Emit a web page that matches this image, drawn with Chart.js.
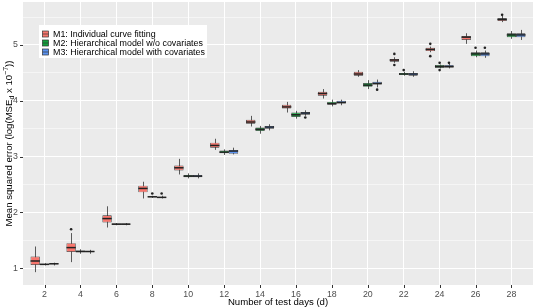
<!DOCTYPE html>
<html>
<head>
<meta charset="utf-8">
<script src="https://cdn.jsdelivr.net/npm/chart.js@4.4.1/dist/chart.umd.min.js"></script>
<style>
  html, body { margin: 0; padding: 0; background: #ffffff; overflow: hidden; }
  #wrap { width: 534px; height: 308px; position: relative; }
</style>
</head>
<body>
<div id="wrap"><canvas id="mse-boxplot-chart"></canvas></div>
<script>
// Test-day groups (x axis)
const days = [2, 4, 6, 8, 10, 12, 14, 16, 18, 20, 22, 24, 26, 28];
const yTicks = [1, 1.5, 2, 2.5, 3, 3.5, 4, 4.5, 5, 5.5];

// M1: Individual curve fitting
const m1Lo  = [0.93, 1.11, 1.73, 2.25, 2.68, 3.12, 3.54, 3.79, 4.04, 4.43, 4.68, 4.87, 5.02, 5.41];
const m1Q1  = [1.06, 1.29, 1.82, 2.36, 2.75, 3.16, 3.59, 3.86, 4.09, 4.45, 4.70, 4.89, 5.09, 5.43];
const m1Med = [1.13, 1.37, 1.89, 2.43, 2.80, 3.20, 3.62, 3.89, 4.13, 4.48, 4.73, 4.92, 5.14, 5.46];
const m1Q3  = [1.21, 1.45, 1.95, 2.48, 2.84, 3.25, 3.66, 3.93, 4.16, 4.52, 4.75, 4.95, 5.16, 5.48];
const m1Hi  = [1.39, 1.63, 2.11, 2.55, 2.96, 3.32, 3.73, 3.98, 4.21, 4.55, 4.78, 4.97, 5.21, 5.52];
const m1Out = [[4, 1.70], [22, 4.84], [22, 4.64], [24, 5.02], [24, 4.80], [28, 5.54]];

// M2: Hierarchical model w/o covariates
const m2Lo  = [1.05, 1.26, 1.77, 2.26, 2.61, 3.03, 3.41, 3.68, 3.90, 4.21, 4.45, 4.58, 4.78, 5.11];
const m2Q1  = [1.06, 1.29, 1.78, 2.27, 2.63, 3.06, 3.46, 3.71, 3.93, 4.25, 4.46, 4.59, 4.80, 5.14];
const m2Med = [1.07, 1.30, 1.79, 2.28, 2.65, 3.08, 3.49, 3.75, 3.95, 4.28, 4.48, 4.61, 4.84, 5.18];
const m2Q3  = [1.08, 1.32, 1.80, 2.29, 2.67, 3.11, 3.52, 3.79, 3.98, 4.32, 4.50, 4.64, 4.87, 5.21];
const m2Hi  = [1.09, 1.34, 1.81, 2.30, 2.70, 3.13, 3.55, 3.82, 4.02, 4.37, 4.52, 4.65, 4.90, 5.25];
const m2Out = [[8, 2.34], [22, 4.55], [24, 4.68], [24, 4.55], [26, 4.95]];

// M3: Hierarchical model with covariates
const m3Lo  = [1.05, 1.26, 1.77, 2.25, 2.61, 3.04, 3.47, 3.73, 3.92, 4.24, 4.43, 4.58, 4.77, 5.09];
const m3Q1  = [1.07, 1.29, 1.78, 2.26, 2.63, 3.05, 3.50, 3.75, 3.95, 4.29, 4.45, 4.60, 4.80, 5.14];
const m3Med = [1.08, 1.30, 1.79, 2.27, 2.65, 3.10, 3.53, 3.78, 3.97, 4.31, 4.48, 4.61, 4.84, 5.18];
const m3Q3  = [1.09, 1.31, 1.80, 2.28, 2.67, 3.12, 3.55, 3.80, 4.00, 4.34, 4.50, 4.64, 4.87, 5.21];
const m3Hi  = [1.10, 1.33, 1.81, 2.30, 2.70, 3.16, 3.58, 3.83, 4.02, 4.38, 4.53, 4.66, 4.90, 5.27];
const m3Out = [[8, 2.34], [16, 3.70], [20, 4.20], [24, 4.68], [26, 4.95]];

const seriesNames = [
    'M1: Individual curve fitting',
    'M2: Hierarchical model w/o covariates',
    'M3: Hierarchical model with covariates'
];
const seriesColors = ['#F8766D', '#12A23C', '#5B93F0'];

const FONT = '"Liberation Sans", Arial, sans-serif';
const OUTLINE = '#333333';

const models = [
    { lo: m1Lo, q1: m1Q1, med: m1Med, q3: m1Q3, hi: m1Hi, out: m1Out },
    { lo: m2Lo, q1: m2Q1, med: m2Med, q3: m2Q3, hi: m2Hi, out: m2Out },
    { lo: m3Lo, q1: m3Q1, med: m3Med, q3: m3Q3, hi: m3Hi, out: m3Out }
];

// boxes are floating bars from q1 to q3
const datasets = models.map((m, i) => ({
    label: seriesNames[i],
    data: days.map((d, j) => ({ x: d, y: [m.q1[j], m.q3[j]] })),
    backgroundColor: seriesColors[i],
    borderColor: OUTLINE,
    borderWidth: 0.7,
    borderSkipped: false,
    categoryPercentage: 0.78,
    barPercentage: 1.0
}));

// grey panel background
const panelBackground = {
    id: 'panelBackground',
    beforeDraw(chart) {
        const { ctx, chartArea: a } = chart;
        ctx.save();
        ctx.fillStyle = '#EBEBEB';
        ctx.fillRect(a.left, a.top, a.right - a.left, a.bottom - a.top);
        ctx.restore();
    }
};

// whiskers behind boxes, medians and outliers on top
const boxWhiskers = {
    id: 'boxWhiskers',
    beforeDatasetsDraw(chart) {
        const { ctx } = chart;
        const ys = chart.scales.y;
        ctx.save();
        ctx.strokeStyle = OUTLINE;
        ctx.lineWidth = 0.8;
        models.forEach((m, i) => {
            chart.getDatasetMeta(i).data.forEach((bar, j) => {
                const x = Math.round(bar.x) + 0.5;
                ctx.beginPath();
                ctx.moveTo(x, ys.getPixelForValue(m.lo[j]));
                ctx.lineTo(x, ys.getPixelForValue(m.hi[j]));
                ctx.stroke();
            });
        });
        ctx.restore();
    },
    afterDatasetsDraw(chart) {
        const { ctx } = chart;
        const ys = chart.scales.y;
        ctx.save();
        models.forEach((m, i) => {
            const meta = chart.getDatasetMeta(i);
            ctx.strokeStyle = '#222222';
            ctx.lineWidth = 1.5;
            meta.data.forEach((bar, j) => {
                const y = ys.getPixelForValue(m.med[j]);
                ctx.beginPath();
                ctx.moveTo(bar.x - bar.width / 2, y);
                ctx.lineTo(bar.x + bar.width / 2, y);
                ctx.stroke();
            });
            ctx.fillStyle = '#222222';
            m.out.forEach(([d, v]) => {
                const bar = meta.data[days.indexOf(d)];
                ctx.beginPath();
                ctx.arc(bar.x, ys.getPixelForValue(v), 1.3, 0, Math.PI * 2);
                ctx.fill();
            });
        });
        ctx.restore();
    }
};

// tick marks, legend inside the panel, axis titles with sub/superscripts
const annotations = {
    id: 'annotations',
    afterDraw(chart) {
        const { ctx, chartArea: a } = chart;
        const xs = chart.scales.x, ys = chart.scales.y;
        ctx.save();

        // tick marks
        ctx.strokeStyle = '#333333';
        ctx.lineWidth = 1;
        ctx.beginPath();
        days.forEach(d => {
            const x = Math.round(xs.getPixelForValue(d)) + 0.5;
            ctx.moveTo(x, a.bottom);
            ctx.lineTo(x, a.bottom + 3);
        });
        yTicks.filter(v => Number.isInteger(v)).forEach(v => {
            const y = Math.round(ys.getPixelForValue(v)) + 0.5;
            ctx.moveTo(a.left - 3, y);
            ctx.lineTo(a.left, y);
        });
        ctx.stroke();

        // legend
        const lx = 39, ly = 25, lw = 168, lh = 33;
        ctx.fillStyle = '#ffffff';
        ctx.fillRect(lx, ly, lw, lh);
        ctx.font = '8.9px ' + FONT;
        ctx.textBaseline = 'middle';
        seriesNames.forEach((name, i) => {
            const cy = 34 + i * 9;
            ctx.fillStyle = seriesColors[i];
            ctx.fillRect(42.5, cy - 3, 6, 6);
            ctx.strokeStyle = OUTLINE;
            ctx.lineWidth = 0.7;
            ctx.strokeRect(42.5, cy - 3, 6, 6);
            ctx.beginPath();
            ctx.moveTo(42.5, cy);
            ctx.lineTo(48.5, cy);
            ctx.stroke();
            ctx.fillStyle = '#000000';
            ctx.fillText(name, 53, cy + 0.5);
        });

        // x title
        ctx.font = '9.6px ' + FONT;
        ctx.textAlign = 'center';
        ctx.textBaseline = 'middle';
        ctx.fillText('Number of test days (d)', (a.left + a.right) / 2, 302);

        // y title, rotated
        const parts = [
            { t: 'Mean squared error (log(MSE', size: 9.6, dy: 0 },
            { t: 'd', size: 7, dy: 2 },
            { t: ' x 10', size: 9.6, dy: 0 },
            { t: '\u22127', size: 7, dy: -4 },
            { t: '))', size: 9.6, dy: 0 }
        ];
        let total = 0;
        parts.forEach(p => {
            ctx.font = p.size + 'px ' + FONT;
            p.w = ctx.measureText(p.t).width;
            total += p.w;
        });
        ctx.translate(8, (a.top + a.bottom) / 2);
        ctx.rotate(-Math.PI / 2);
        ctx.textAlign = 'left';
        ctx.textBaseline = 'alphabetic';
        let x = -total / 2;
        parts.forEach(p => {
            ctx.font = p.size + 'px ' + FONT;
            ctx.fillText(p.t, x, 3.5 + p.dy);
            x += p.w;
        });
        ctx.restore();
    }
};

new Chart(document.getElementById('mse-boxplot-chart'), {
    type: 'bar',
    data: { datasets: datasets },
    options: {
        responsive: true,
        maintainAspectRatio: false,
        animation: false,
        layout: { padding: { left: 0, right: 1, top: 2, bottom: 0 } },
        plugins: {
            legend: { display: false },
            tooltip: { enabled: false }
        },
        scales: {
            x: {
                type: 'linear',
                min: 0.8,
                max: 29.2,
                offset: false,
                afterBuildTicks: axis => { axis.ticks = days.map(v => ({ value: v })); },
                afterFit: axis => {
                    axis.height = 23;
                    axis.paddingLeft = 0;
                    axis.paddingRight = 0;
                },
                border: { display: false },
                grid: { color: '#ffffff', lineWidth: 1, offset: false, drawTicks: false },
                ticks: { color: '#4D4D4D', font: { family: FONT, size: 8.8 }, padding: 4, maxRotation: 0 }
            },
            y: {
                min: 0.70,
                max: 5.77,
                afterBuildTicks: axis => { axis.ticks = yTicks.map(v => ({ value: v })); },
                afterFit: axis => {
                    axis.width = 23;
                    axis.paddingTop = 0;
                    axis.paddingBottom = 0;
                },
                border: { display: false },
                grid: {
                    color: '#ffffff',
                    lineWidth: c => (c.tick && Number.isInteger(c.tick.value) ? 1 : 0.5),
                    drawTicks: false
                },
                ticks: {
                    color: '#4D4D4D',
                    font: { family: FONT, size: 8.8 },
                    padding: 5,
                    callback: v => (Number.isInteger(v) ? String(v) : '')
                }
            }
        }
    },
    plugins: [panelBackground, boxWhiskers, annotations]
});
</script>
</body>
</html>
